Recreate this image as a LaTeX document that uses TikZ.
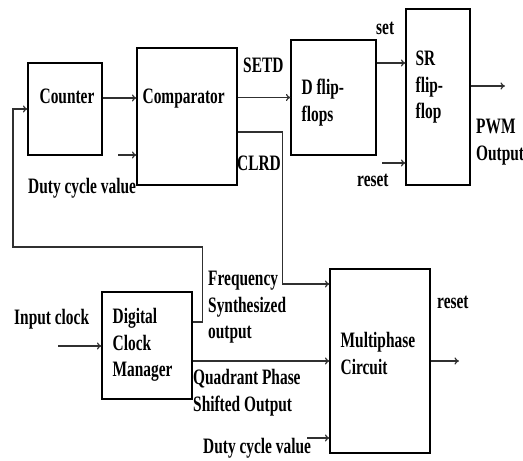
\documentclass[tikz,border=0pt]{standalone}
\usepackage{fontspec}
\setmainfont{Liberation Serif}[FakeStretch=0.7]
\usetikzlibrary{arrows.meta,positioning,calc}
\definecolor{wireGray}{HTML}{303030}

\begin{document}
\begin{tikzpicture}[
  x=1pt, y=1pt,
  block/.style={draw=black, line width=1.1pt, minimum width=#1, inner sep=0pt},
  flow/.style={-{To[length=4.5pt,width=7pt]}, wireGray, line width=1.2pt},
  txt/.style={font=\fontsize{22}{26.5}\selectfont\bfseries, inner sep=0pt, align=left, anchor=base west},
]
  \useasboundingbox (0,0) rectangle (523,461);

  % blocks
  \node[block=74pt, minimum height=92pt]  (counter) at (65,352)    {};
  \node[block=100pt, minimum height=137pt] (comp)   at (187,344.5) {};
  \node[block=85pt, minimum height=115pt]  (dff)    at (333.5,363.5) {};
  \node[block=64pt, minimum height=176pt]  (srff)   at (438,364)   {};
  \node[block=90pt, minimum height=107pt]  (dcm)    at (147,115.5) {};
  \node[block=100pt, minimum height=184pt] (multi)  at (380,100)   {};

  % block texts (base = last line)
  \node[txt] at ($(counter.west)+(12,5)$)  {Counter};
  \node[txt] at ($(comp.west)+(6,12.5)$)   {Comparator};
  \node[txt] at ($(dff.west)+(11,-24)$)    {D flip-\\flops};
  \node[txt] at ($(srff.west)+(10,-22)$)   {SR\\flip-\\flop};
  \node[txt] at ($(dcm.west)+(11,-31.5)$)  {Digital\\Clock\\Manager};
  \node[txt] at ($(multi.west)+(11,-13.5)$) {Multiphase\\Circuit};

  % free ends
  \coordinate (dutyA) at (118,306);
  \coordinate (rstA)  at (382,298);
  \coordinate (pwm)   at (505,375);
  \coordinate (clkin) at (58,115);
  \coordinate (rstB)  at (459,100);
  \coordinate (dutyB) at (307,23);
  \coordinate (fb)    at (13,214);

  % connectors
  \draw[flow] ([yshift=11]counter.east) -- ([yshift=11]counter.east -| comp.west);
  \draw[flow] (dutyA) -- (dutyA -| comp.west);
  \draw[flow] (comp.east |- dff.west) -- (dff.west);
  \draw[flow] ([yshift=-15.5]comp.east) -- ++(45,0) |- ([yshift=77]multi.west);
  \draw[flow] ([yshift=34.5]dff.east) -- ([yshift=34.5]dff.east -| srff.west);
  \draw[flow] (rstA) -- (rstA -| srff.west);
  \draw[flow] ([yshift=11]srff.east) -- (pwm);
  \draw[flow] (clkin) -- (clkin -| dcm.west);
  \draw[flow] (multi.west -| dcm.east) -- (multi.west);
  \draw[flow] (multi.east) -- (rstB);
  \draw[flow] (dutyB) -- (dutyB -| multi.west);
  \draw[flow] ([yshift=23.5]dcm.east) -- ++(10,0) |- (fb) |- (counter.west);

  % signal labels
  \node[txt] at (243,388)   {SETD};
  \node[txt] at (237,290)   {CLRD};
  \node[txt] at (376,426)   {set};
  \node[txt] at (357,274)   {reset};
  \node[txt] at (476,300.5) {PWM\\Output};
  \node[txt] at (28,267)    {Duty cycle value};
  \node[txt] at (208,122)   {Frequency\\Synthesized\\output};
  \node[txt] at (14,136)    {Input clock};
  \node[txt] at (193,49.5)  {Quadrant Phase\\Shifted Output};
  \node[txt] at (437,152)   {reset};
  \node[txt] at (203,7)     {Duty cycle value};
\end{tikzpicture}
\end{document}
